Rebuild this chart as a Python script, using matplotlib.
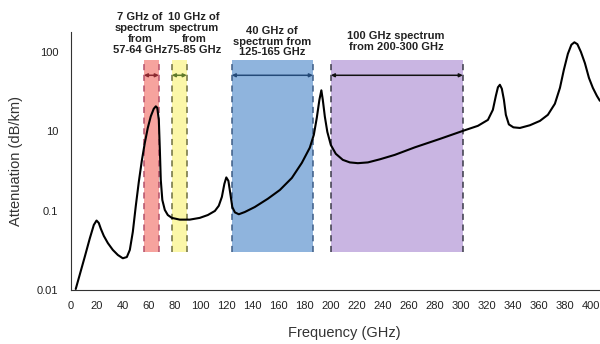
import numpy as np
import matplotlib
matplotlib.use("Agg")
import matplotlib.pyplot as plt

plt.rcParams['font.family'] = ['Liberation Sans', 'DejaVu Sans']

# attenuation curve (GHz, dB/km on the drawn scale)
freq = [3.8, 10.8, 14.6, 17.7, 19.8, 21.5, 23.1, 25.4, 28.5, 32.3,
        36.2, 40.0, 43.1, 45.4, 47.7, 50.0, 52.3, 54.6, 56.9, 59.2,
        61.5, 63.8, 65.4, 66.5, 67.7, 68.5, 69.2, 70.4, 72.3, 74.6,
        77.7, 83.8, 91.5, 99.2, 105.4, 110.8, 113.8, 116.2, 118.1, 119.6,
        121.2, 122.7, 124.2, 126.2, 129.2, 133.8, 141.5, 151.5, 160.8, 170.0,
        177.7, 183.8, 186.9, 189.2, 191.2, 192.7, 193.8, 195.4, 197.3, 200.0,
        203.8, 209.2, 214.6, 220.8, 228.5, 237.7, 249.2, 264.6, 283.8, 301.5,
        313.1, 320.8, 324.6, 326.9, 328.5, 330.0, 331.5, 333.1, 334.6, 336.9,
        340.4, 345.4, 353.1, 360.8, 366.9, 372.3, 376.2, 379.2, 382.3, 385.0,
        387.3, 389.6, 392.3, 395.4, 398.5, 401.5, 404.6, 406.9]
atten = [0.103, 0.264, 0.446, 0.66, 0.75, 0.70, 0.59, 0.48, 0.39, 0.32,
         0.276, 0.251, 0.26, 0.32, 0.54, 1.15, 2.3, 4.24, 7.1, 11.0,
         15.4, 19.2, 20.6, 19.7, 13.9, 5.8, 2.44, 1.36, 1.02, 0.88,
         0.81, 0.77, 0.77, 0.81, 0.88, 0.99, 1.15, 1.49, 2.17, 2.62,
         2.37, 1.63, 1.11, 0.95, 0.90, 0.96, 1.11, 1.41, 1.82, 2.58,
         4.0, 6.2, 9.0, 14.8, 24.9, 32.8, 24.9, 15.2, 9.8, 6.7,
         5.2, 4.36, 4.05, 3.96, 4.05, 4.43, 5.04, 6.27, 8.0, 10.1,
         11.7, 13.9, 18.6, 27.9, 35.8, 38.5, 34.3, 24.9, 16.1, 12.2,
         11.2, 11.0, 11.9, 13.5, 16.1, 22.2, 35.2, 59.4, 94.6, 123,
         132, 125, 100, 72.0, 47.0, 35.2, 27.9, 24.2]

# highlighted bands
band_lo = [56.2, 77.7, 123.8, 200]
band_hi = [67.7, 89.2, 186.2, 301.5]
band_fill = ['#f6a39e', '#fbf7a8', '#8fb4dd', '#c9b5e2']
band_edge = ['#b4506a', '#6f7040', '#3c5c86', '#3a3a48']
arrow_col = ['#8a2a30', '#5f7a2a', '#244a78', '#111111']
band_text = ['7 GHz of\nspectrum\nfrom\n57-64 GHz',
             '10 GHz of\nspectrum\nfrom\n75-85 GHz',
             '40 GHz of\nspectrum from\n125-165 GHz',
             '100 GHz spectrum\nfrom 200-300 GHz']
text_x = [53, 94.6, 154.6, 250]
text_y = [0.994, 0.994, 0.963, 0.963]

yticks = [0.1, 1, 10, 100]
ytick_labels = ['0.01', '0.1', '10', '100']
xticks = list(range(0, 401, 20))

fig = plt.figure(figsize=(6, 3.44), dpi=100)
ax = fig.add_axes([0.118, 0.157, 0.882, 0.75])

ybot, ytop = 0.30, 79.4
for i in range(4):
    ax.fill_between([band_lo[i], band_hi[i]], ybot, ytop, color=band_fill[i], lw=0, zorder=1)
    ax.vlines([band_lo[i], band_hi[i]], ybot, ytop, colors=band_edge[i],
              linestyles=(0, (4, 3)), lw=1.1, zorder=2)
    ax.annotate('', xy=(band_lo[i], 50.7), xytext=(band_hi[i], 50.7),
                arrowprops=dict(arrowstyle='<|-|>', color=arrow_col[i], lw=1.1,
                                mutation_scale=5, shrinkA=0, shrinkB=0), zorder=3)
    ax.text(text_x[i], text_y[i], band_text[i], transform=ax.get_xaxis_transform(),
            ha='center', va='center', fontsize=8, fontweight='bold', color='#222222',
            linespacing=1.1, clip_on=False)

ax.plot(freq, atten, color='black', lw=1.5, zorder=4,
        solid_joinstyle='round', solid_capstyle='round')

ax.set_yscale('log')
ax.set_ylim(0.1, 178)
ax.set_xlim(0, 407)
ax.set_yticks(yticks)
ax.set_yticklabels(ytick_labels)
ax.minorticks_off()
ax.set_xticks(xticks)
ax.tick_params(length=0, labelsize=8, pad=8, colors='#222222')
ax.tick_params(axis='y', pad=9)

for s in ['top', 'right']:
    ax.spines[s].set_visible(False)
ax.spines['left'].set_color('#333333')
ax.spines['bottom'].set_color('#333333')

ax.set_xlabel('Frequency (GHz)', fontsize=10.5, color='#333333', labelpad=12)
ax.xaxis.set_label_coords(0.516, -0.14)
ax.set_ylabel('Attenuation (dB/km)', fontsize=10.5, color='#333333', labelpad=10)

fig.savefig('out.png', dpi=100)
